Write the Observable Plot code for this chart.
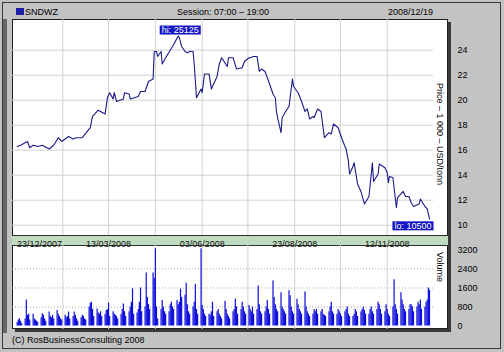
<!DOCTYPE html>
<html><head><meta charset="utf-8">
<script src="https://cdn.jsdelivr.net/npm/d3@7"></script>
<script src="https://cdn.jsdelivr.net/npm/@observablehq/plot@0.6"></script>
<style>
html,body{margin:0;padding:0;background:#c3c3c3;}
#wrap{position:relative;width:504px;height:352px;background:#c3c3c3;overflow:hidden;font-family:"Liberation Sans",Arial,sans-serif;font-size:9px;color:#000;}
.abs{position:absolute;white-space:nowrap;line-height:normal;}
#frame{position:absolute;left:2px;top:2px;width:499px;height:347px;border:1px solid #3a3a3a;box-sizing:border-box;}
#strip{position:absolute;left:3px;top:19px;width:4px;height:314px;background:#666;}
#panel{position:absolute;left:12px;top:19px;width:436px;height:310px;background:#fff;border:1px solid #1e1e1e;box-sizing:border-box;box-shadow:3px 3px 0 #3a3a3a;}
#band{position:absolute;left:12px;top:235px;width:436px;height:11px;background:#c0dcc0;border-top:1px solid #303030;border-bottom:1px solid #303030;box-sizing:border-box;}
.vlab{position:absolute;writing-mode:vertical-rl;white-space:nowrap;line-height:normal;}
#sq{position:absolute;left:16px;top:8px;width:8px;height:7px;background:#1e1ea8;}
</style></head><body>
<div id="wrap">
  <div id="frame"></div>
  <div id="strip"></div>
  <div id="panel"></div>
  <div id="band"></div>
  <div id="sq"></div>
  <div class="abs" style="left:25px;top:7px;">SNDWZ</div>
  <div class="abs" style="left:177px;top:7px;">Session: 07:00 – 19:00</div>
  <div class="abs" style="right:71px;top:7px;">2008/12/19</div>
  <div class="vlab" style="left:435px;top:83px;">Price – 1 000 – USD/tonn</div>
  <div class="vlab" style="left:435px;top:252px;">Volume</div>
  <div class="abs" style="left:12px;top:335px;">(C) RosBusinessConsulting 2008</div>
  <div id="price" style="position:absolute;left:12px;top:19px;"></div>
  <div id="vol" style="position:absolute;left:12px;top:235px;"></div>
</div>
<script>
const priceDates = ["2007-12-24","2007-12-27","2008-01-02","2008-01-04","2008-01-07","2008-01-11","2008-01-15","2008-01-21","2008-01-25","2008-01-29",
"2008-02-01","2008-02-07","2008-02-11","2008-02-14","2008-02-19","2008-02-26","2008-02-28","2008-03-04","2008-03-10","2008-03-12",
"2008-03-14","2008-03-17","2008-03-18","2008-03-20","2008-03-26","2008-03-27","2008-03-31","2008-04-01","2008-04-08","2008-04-10",
"2008-04-14","2008-04-17","2008-04-21","2008-04-22","2008-04-24","2008-04-25","2008-04-28","2008-04-29","2008-05-02","2008-05-06",
"2008-05-08","2008-05-13","2008-05-14","2008-05-16","2008-05-19","2008-05-21","2008-05-23","2008-05-26","2008-05-27","2008-05-29",
"2008-06-02","2008-06-03","2008-06-05","2008-06-09","2008-06-11","2008-06-16","2008-06-18","2008-06-20","2008-06-25","2008-06-26",
"2008-06-30","2008-07-03","2008-07-08","2008-07-10","2008-07-14","2008-07-15","2008-07-18","2008-07-21","2008-07-23","2008-07-25",
"2008-07-28","2008-08-01","2008-08-04","2008-08-06","2008-08-07","2008-08-08","2008-08-11","2008-08-12","2008-08-15","2008-08-18",
"2008-08-21","2008-08-22","2008-08-26","2008-08-29","2008-09-01","2008-09-03","2008-09-05","2008-09-08","2008-09-09","2008-09-12",
"2008-09-15","2008-09-18","2008-09-22","2008-09-24","2008-09-26","2008-09-30","2008-10-03","2008-10-06","2008-10-07","2008-10-09",
"2008-10-10","2008-10-13","2008-10-14","2008-10-17","2008-10-20","2008-10-23","2008-10-27","2008-10-30","2008-10-31","2008-11-04",
"2008-11-05","2008-11-10","2008-11-12","2008-11-13","2008-11-14","2008-11-17","2008-11-20","2008-11-21","2008-11-26","2008-11-28",
"2008-12-01","2008-12-03","2008-12-05","2008-12-10","2008-12-11","2008-12-15","2008-12-17","2008-12-19"];
const priceValues = [16.3,16.4,16.7,16.2,16.4,16.3,16.4,16.1,16.4,17.0,
16.7,17.1,16.9,17.0,17.0,17.8,18.7,19.2,18.9,20.2,
20.6,20.1,20.6,19.9,20.1,20.6,20.5,20.1,20.3,20.7,
20.7,21.5,21.7,23.9,23.9,23.5,23.9,22.9,23.4,24.0,
24.3,25.125,25.0,24.3,23.9,23.8,23.9,23.9,22.9,20.2,
20.9,20.6,22.1,22.1,20.9,21.9,22.9,23.4,22.7,23.4,
23.4,22.5,22.6,23.1,23.4,23.4,23.5,23.5,22.3,22.5,
22.3,21.3,20.5,20.2,19.1,18.6,17.4,18.6,19.1,19.5,
21.7,21.1,20.6,19.9,19.1,19.3,18.5,18.7,18.6,19.3,
19.1,17.0,17.4,17.3,18.1,17.8,17.0,16.3,16.1,15.1,
14.1,14.7,15.0,13.3,12.7,11.7,12.3,15.0,13.5,14.1,
14.9,14.6,14.2,13.4,13.9,13.8,11.4,12.2,12.7,12.3,
12.3,11.8,11.5,11.7,12.1,11.5,11.3,10.5];
// weekly volumes, Mon..Fri, weeks starting 2007-12-24
const weekVolumes = [
[150,250,300,200,100],[300,1100,450,500,250],[500,300,250,200,150],[350,520,450,300,200],
[590,400,350,450,300],[650,500,400,300,250],[450,350,400,590,300],[400,590,450,300,200],
[350,450,400,300,250],[800,960,1000,700,400],[720,550,500,600,400],[500,650,700,960,400],
[600,500,450,400,300],[500,700,930,600,400],[600,800,1000,1570,500],[550,700,1000,1600,600],
[800,2230,1200,900,700],[2230,2000,3250,800,300],[700,1070,800,600,500],[600,900,1000,800,700],
[1070,900,1000,1550,1200],[1300,1800,900,600,500],[800,1000,1750,700,500],[3250,860,700,500,400],
[500,450,600,1000,400],[600,700,500,400,300],[1040,700,500,400,300],[600,700,1130,800,500],
[700,1000,800,600,500],[860,700,600,800,500],[700,1680,900,600,500],[600,800,1070,700,500],
[1890,1200,900,700,600],[1400,800,700,600,500],[1480,1270,800,600,500],[1130,900,700,600,500],
[1430,800,600,500,400],[500,700,600,700,500],[600,700,500,450,400],[600,800,1000,600,500],
[500,700,600,500,400],[600,700,800,500,400],[400,500,700,600,400],[600,700,800,650,500],
[500,700,800,600,500],[700,1000,900,700,500],[600,900,700,500,400],[800,1950,900,700,500],
[1400,1100,900,700,600],[700,900,900,800,600],[800,1000,900,1100,700],[800,1000,1100,1600,1500]];
const priceTicks = [10,12,14,16,18,20,22,24];
const volumeTicks = [0,800,1600,2400,3200];
const volumeGrid = [800,1600,2400];
const gridDates = ["2008-02-02","2008-03-13","2008-04-23","2008-06-03","2008-07-13","2008-08-23","2008-10-02","2008-11-12"];
const firstLabelDate = "2007-12-23";
const firstLabelText = "23/12/2007";
const labelDates = ["2008-03-13","2008-06-03","2008-08-23","2008-11-12"];
const labelTexts = ["13/03/2008","03/06/2008","23/08/2008","12/11/2008"];
const hiDate = "2008-05-13", hiValue = 25.125;
const loDate = "2008-12-19", loValue = 10.5;

const parse = d3.utcParse("%Y-%m-%d");
const price = priceDates.map((d, i) => ({date: parse(d), value: priceValues[i]}));
const mondays = d3.utcMonday.range(parse("2007-12-24"), parse("2008-12-20"));
const volume = [];
mondays.forEach((m, w) => weekVolumes[w].forEach((v, k) => volume.push({date: d3.utcDay.offset(m, k), value: v})));
const xDomain = [new Date(Date.UTC(2007, 11, 19, 22)), new Date(Date.UTC(2008, 11, 22, 12))];
const grid = gridDates.map(parse);
const style = {background: "transparent", fontFamily: "'Liberation Sans', Arial, sans-serif", fontSize: "9px", color: "#000", overflow: "visible"};

const pricePlot = Plot.plot({
  width: 480, height: 216, marginLeft: 0, marginRight: 59, marginTop: 0, marginBottom: 0,
  style,
  x: {type: "utc", domain: xDomain, axis: null},
  y: {domain: [9.176, 26.456]},
  marks: [
    Plot.ruleX(grid, {stroke: "#d2d2d2"}),
    Plot.ruleY(priceTicks, {stroke: "#d2d2d2"}),
    Plot.line(price, {x: "date", y: "value", stroke: "#1a1a8a", strokeWidth: 1.1}),
    Plot.axisY(priceTicks, {anchor: "right", tickSize: 0, tickPadding: 24, label: null, tickFormat: d => String(d)}),
    Plot.text([{date: parse(hiDate), value: hiValue}], {x: "date", y: "value", text: d => "hi: " + Math.round(d.value * 1000), dy: -6, dx: 2, fill: "white", className: "hilo"}),
    Plot.text([{date: parse(loDate), value: loValue}], {x: "date", y: "value", text: d => "lo: " + Math.round(d.value * 1000), dy: 7, dx: 2, textAnchor: "end", fill: "white", className: "hilo"})
  ]
});

const volPlot = Plot.plot({
  width: 480, height: 94, marginLeft: 0, marginRight: 59, marginTop: 10, marginBottom: 0,
  style,
  x: {type: "utc", domain: xDomain, axis: null},
  y: {domain: [-147, 3389]},
  marks: [
    Plot.ruleX(grid, {stroke: "#d2d2d2"}),
    Plot.ruleY(volumeGrid, {stroke: "#aaaaaa", strokeDasharray: "1,2"}),
    Plot.ruleX(volume, {x: "date", y1: 0, y2: "value", stroke: "#0c0cdc", strokeWidth: 1.2}),
    Plot.axisY(volumeTicks, {anchor: "right", tickSize: 0, tickPadding: 24, label: null, tickFormat: d => String(d)}),
    Plot.text([firstLabelText], {x: () => parse(firstLabelDate), text: d => d, frameAnchor: "top", dy: -5, dx: 1, textAnchor: "start", fill: "#111"}),
    Plot.text(labelTexts, {x: (d, i) => parse(labelDates[i]), text: d => d, frameAnchor: "top", dy: -5, fill: "#111"})
  ]
});

document.getElementById("price").appendChild(pricePlot);
document.getElementById("vol").appendChild(volPlot);

// draw the blue boxes behind the hi / lo labels (white text on blue)
pricePlot.querySelectorAll("text").forEach(t => {
  const txt = t.textContent || "";
  if (!(txt.startsWith("hi: ") || txt.startsWith("lo: "))) return;
  const b = t.getBBox();
  const r = document.createElementNS("http://www.w3.org/2000/svg", "rect");
  r.setAttribute("x", b.x - 2);
  r.setAttribute("y", b.y + 0.5);
  r.setAttribute("width", b.width + 4);
  r.setAttribute("height", b.height - 1);
  r.setAttribute("fill", "#1414c4");
  const tr = t.getAttribute("transform");
  if (tr) r.setAttribute("transform", tr);
  t.parentNode.insertBefore(r, t);
});
</script>
</body></html>
